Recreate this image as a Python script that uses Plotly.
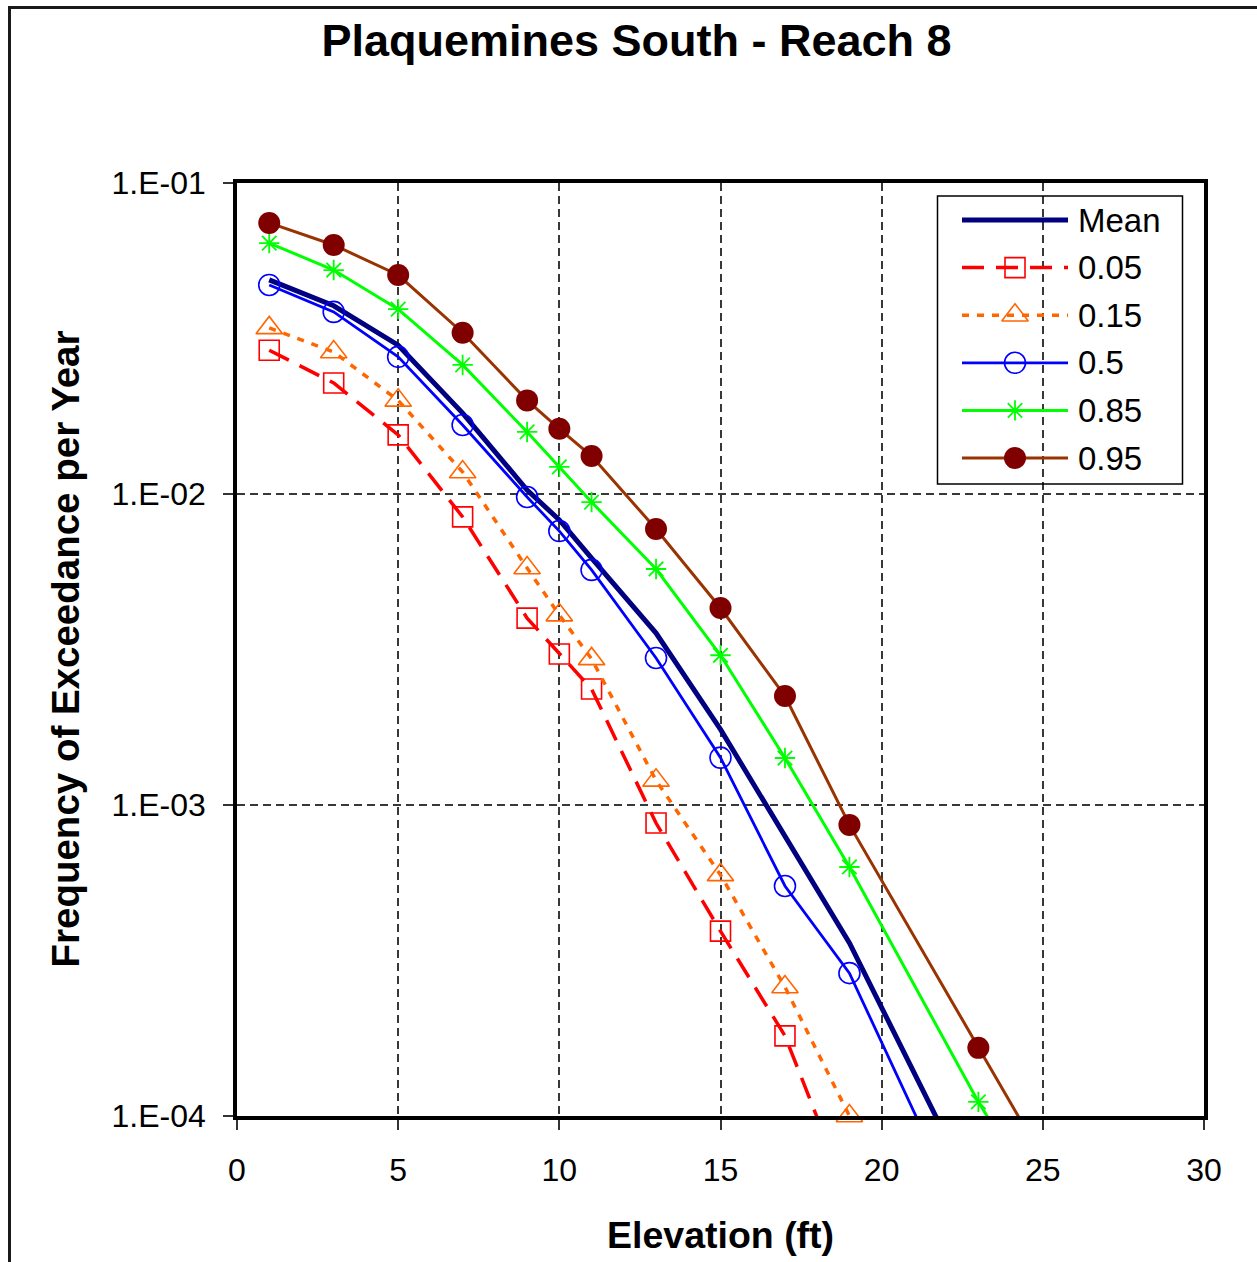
import plotly.graph_objects as go

# ---- data: annual exceedance frequency vs. elevation ----
elev_mean = [1, 3, 5, 7, 9, 10, 11, 13, 15, 17, 19, 23]
freq_mean = [0.0488, 0.0403, 0.0301, 0.0182, 0.0103, 0.00825, 0.00622,
             0.00357, 0.00175, 0.00080, 0.00036, 5.3e-5]

elev_p05 = [1, 3, 5, 7, 9, 10, 11, 13, 15, 17, 19]
freq_p05 = [0.0290, 0.02275, 0.01549, 0.00844, 0.00399, 0.00306, 0.00236,
            0.000875, 0.000393, 0.000181, 5.4e-5]

elev_p15 = [1, 3, 5, 7, 9, 10, 11, 13, 15, 17, 19]
freq_p15 = [0.0342, 0.0286, 0.0200, 0.01177, 0.00578, 0.00408, 0.00295,
            0.00120, 0.000596, 0.000260, 0.000100]

elev_p50 = [1, 3, 5, 7, 9, 10, 11, 13, 15, 17, 19, 23]
freq_p50 = [0.0470, 0.0385, 0.0276, 0.01667, 0.00978, 0.00760, 0.00570,
            0.00297, 0.00142, 0.000549, 0.000288, 3.7e-5]

elev_p85 = [1, 3, 5, 7, 9, 10, 11, 13, 15, 17, 19, 23, 25]
freq_p85 = [0.0641, 0.0525, 0.0393, 0.0260, 0.01583, 0.01222, 0.00942,
            0.00574, 0.00303, 0.001416, 0.000632, 0.000111, 5.1e-5]

elev_p95 = [1, 3, 5, 7, 9, 10, 11, 13, 15, 17, 19, 23, 25]
freq_p95 = [0.0744, 0.0632, 0.0506, 0.0330, 0.0200, 0.0162, 0.01324,
            0.00772, 0.00430, 0.00224, 0.000863, 0.0001656, 7.3e-5]

series_names = ["Mean", "0.05", "0.15", "0.5", "0.85", "0.95"]

x_ticks = [0, 5, 10, 15, 20, 25, 30]
y_tickvals = [1e-4, 1e-3, 1e-2, 1e-1]
y_ticktext = ["1.E-04", "1.E-03", "1.E-02", "1.E-01"]

title_text = "Plaquemines South - Reach 8"
x_title = "Elevation (ft)"
y_title = "Frequency of Exceedance per Year"

# ---- styling ----
FONT = "Liberation Sans, Arial, Helvetica, sans-serif"
W, H = 1257, 1262
L, R, T, B = 237, 53, 183, 146          # plot area: x 237..1204, y 183..1116
PX0, PX1, PY0, PY1 = L, W - R, T, H - B

styles = [
    dict(line=dict(color="#000080", width=5), mode="lines", marker=None),
    dict(line=dict(color="#FF0000", width=3.5, dash="22px,12px"), mode="lines+markers",
         marker=dict(symbol="square-open", size=20, color="#FF0000", line=dict(width=1.6, color="#FF0000"))),
    dict(line=dict(color="#FF6600", width=3.5, dash="7px,8px"), mode="lines+markers",
         marker=dict(symbol="triangle-up-open", size=23, color="#FF6600", line=dict(width=1.6, color="#FF6600"))),
    dict(line=dict(color="#0000FF", width=2.8), mode="lines+markers",
         marker=dict(symbol="circle-open", size=21, color="#0000FF", line=dict(width=1.6, color="#0000FF"))),
    dict(line=dict(color="#00FF00", width=3), mode="lines+markers",
         marker=dict(symbol="asterisk-open", size=17, color="#00FF00", line=dict(width=1.8, color="#00FF00"))),
    dict(line=dict(color="#993300", width=3), mode="lines+markers",
         marker=dict(symbol="circle", size=22, color="#800000", line=dict(width=0))),
]

data = [
    (elev_mean, freq_mean),
    (elev_p05, freq_p05),
    (elev_p15, freq_p15),
    (elev_p50, freq_p50),
    (elev_p85, freq_p85),
    (elev_p95, freq_p95),
]

fig = go.Figure()

for name, (xs, ys), st in zip(series_names, data, styles):
    kw = dict(x=xs, y=ys, name=name, mode=st["mode"], line=st["line"],
              showlegend=False, cliponaxis=False, xaxis="x", yaxis="y")
    if st["marker"] is not None:
        kw["marker"] = st["marker"]
    fig.add_trace(go.Scatter(**kw))

# ---- legend drawn on a pixel-unit overlay axis ----
leg_box = dict(x0=937.5, x1=1182.5, y0=196, y1=484)
leg_row0, leg_step = 220, 47.6
leg_line_x0, leg_line_x1, leg_mark_x, leg_text_x = 962, 1068, 1015, 1076

for i, (name, st) in enumerate(zip(series_names, styles)):
    ry = leg_row0 + i * leg_step
    fig.add_trace(go.Scatter(x=[leg_line_x0, leg_line_x1], y=[ry, ry], mode="lines",
                             line=st["line"], showlegend=False, hoverinfo="skip",
                             xaxis="x2", yaxis="y2"))
    if st["marker"] is not None:
        fig.add_trace(go.Scatter(x=[leg_mark_x], y=[ry], mode="markers",
                                 marker=st["marker"], showlegend=False, hoverinfo="skip",
                                 xaxis="x2", yaxis="y2"))
    fig.add_annotation(x=leg_text_x, y=ry, xref="x2", yref="y2", text=name,
                       showarrow=False, xanchor="left", yanchor="middle",
                       font=dict(family=FONT, size=33, color="black"))

fig.add_shape(type="rect", xref="x2", yref="y2", **leg_box,
              line=dict(color="black", width=1.5), fillcolor="rgba(0,0,0,0)", layer="above")


def paper_x(px):
    return (px - PX0) / (PX1 - PX0)


def paper_y(py):
    return (PY1 - py) / (PY1 - PY0)


# outer chart frame
fig.add_shape(type="rect", xref="paper", yref="paper",
              x0=paper_x(9.5), x1=paper_x(1300), y0=paper_y(1300), y1=paper_y(7.5),
              line=dict(color="#1a1a1a", width=3), layer="above")

# axis titles
fig.add_annotation(x=0.5, y=paper_y(1235), xref="paper", yref="paper", text=x_title,
                   showarrow=False, xanchor="center", yanchor="middle",
                   font=dict(family=FONT, size=37.5, color="black", weight="bold"))
fig.add_annotation(x=paper_x(65), y=0.5, xref="paper", yref="paper", text=y_title,
                   showarrow=False, xanchor="center", yanchor="middle", textangle=-90,
                   font=dict(family=FONT, size=38.5, color="black", weight="bold"))

grid = dict(showgrid=True, gridcolor="#383838", gridwidth=1.5, griddash="8px,5px")
axis_common = dict(showline=True, mirror=True, linecolor="black", linewidth=3.5,
                   ticks="outside", ticklen=10, tickwidth=1.5, tickcolor="#333333",
                   tickfont=dict(family=FONT, size=32, color="black"), zeroline=False,
                   **grid)

fig.update_layout(
    width=W, height=H,
    margin=dict(l=L, r=R, t=T, b=B, pad=0),
    paper_bgcolor="white", plot_bgcolor="white",
    showlegend=False,
    title=dict(text=title_text, xref="container", yref="container",
               x=636.5 / W, y=1 - 40 / H, xanchor="center", yanchor="middle",
               font=dict(family=FONT, size=45, color="black", weight="bold")),
    xaxis=dict(range=[0, 30], tickvals=x_ticks, ticklabelstandoff=13, **axis_common),
    yaxis=dict(type="log", range=[-4, -1], tickvals=y_tickvals, ticktext=y_ticktext,
               ticklabelstandoff=11, **axis_common),
    xaxis2=dict(overlaying="x", range=[PX0, PX1], visible=False, fixedrange=True),
    yaxis2=dict(overlaying="y", range=[PY1, PY0], visible=False, fixedrange=True),
)

fig.write_html("out.html")
